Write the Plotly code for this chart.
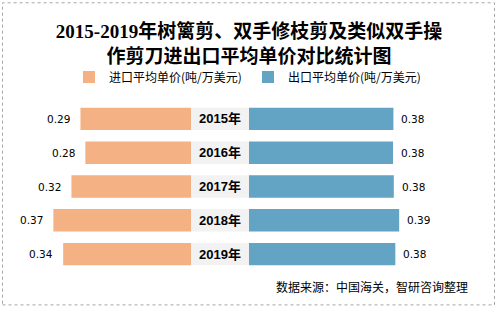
import plotly.graph_objects as go

# ---- data ----
years = ["2015年", "2016年", "2017年", "2018年", "2019年"]
import_price = [0.294, 0.281, 0.318, 0.366, 0.340]
export_price = [0.377, 0.376, 0.378, 0.392, 0.382]
center_band = [1, 1, 1, 1, 1]
import_name = "进口平均单价(吨/万美元)"
export_name = "出口平均单价(吨/万美元)"
title_text = "2015-2019年树篱剪、双手修枝剪及类似双手操<br>作剪刀进出口平均单价对比统计图"
source_text = "数据来源：中国海关，智研咨询整理"

W, H = 498, 309
ORANGE = "#F4B183"
BLUE = "#63A3C3"
CJK = "Noto Sans CJK SC"
YEARFONT = dict(family="Liberation Sans, Noto Sans CJK SC", size=13, color="black", weight="bold")

fig = go.Figure()
fig.add_trace(go.Bar(x=import_price, y=years, orientation="h", name=import_name,
                     marker=dict(color=ORANGE, line=dict(width=0)),
                     xaxis="x", yaxis="y", legend="legend", hoverinfo="skip"))
fig.add_trace(go.Bar(x=center_band, y=years, orientation="h", showlegend=False,
                     marker=dict(color="#F2F2F2", line=dict(width=0)),
                     text=years, textposition="inside", insidetextanchor="middle",
                     textfont=YEARFONT, insidetextfont=YEARFONT,
                     constraintext="none",
                     xaxis="x3", yaxis="y", hoverinfo="skip"))
fig.add_trace(go.Bar(x=export_price, y=years, orientation="h", name=export_name,
                     marker=dict(color=BLUE, line=dict(width=0)),
                     xaxis="x2", yaxis="y", legend="legend2", hoverinfo="skip"))

annotations = []
for yr, v in zip(years, import_price):
    annotations.append(dict(x=v, y=yr, xref="x", yref="y", text=f"{v:.2f}",
                            showarrow=False, xanchor="right", xshift=-8,
                            font=dict(family="DejaVu Sans", size=10.5, color="black")))
for yr, v in zip(years, export_price):
    annotations.append(dict(x=v, y=yr, xref="x2", yref="y", text=f"{v:.2f}",
                            showarrow=False, xanchor="left", xshift=6,
                            font=dict(family="DejaVu Sans", size=10.5, color="black")))

top, bottom = 102, 271.5
ph = bottom - top
def py(px):
    return (bottom - px) / ph

# source
annotations.append(dict(x=470 / W, y=py(287), xref="paper", yref="paper", text=source_text,
                        showarrow=False, xanchor="right", yanchor="middle",
                        font=dict(family=CJK, size=12, color="black")))

fig.update_layout(
    width=W, height=H,
    margin=dict(l=0, r=0, t=top, b=H - bottom, pad=0),
    paper_bgcolor="white", plot_bgcolor="white",
    bargap=0.336,
    title=dict(text=title_text, x=0.5, xanchor="center", yref="container", y=1 - 38 / H,
               yanchor="middle",
               font=dict(family="Liberation Serif, " + CJK, size=19, color="black", weight="bold")),
    xaxis=dict(domain=[0, 191 / W], range=[0.508, 0], visible=False, fixedrange=True),
    xaxis3=dict(domain=[191 / W, 249 / W], range=[0, 1], visible=False, anchor="y"),
    xaxis2=dict(domain=[249 / W, 1], range=[0, 0.650], visible=False, anchor="y"),
    yaxis=dict(autorange="reversed", visible=False),
    legend=dict(orientation="h", x=69 / W, xref="container", y=1 - 77 / H, yref="container",
                xanchor="left", yanchor="middle", bgcolor="rgba(0,0,0,0)", itemwidth=30,
                font=dict(family=CJK, size=12, color="black")),
    legend2=dict(orientation="h", x=248 / W, xref="container", y=1 - 77 / H, yref="container",
                 xanchor="left", yanchor="middle", bgcolor="rgba(0,0,0,0)", itemwidth=30,
                 font=dict(family=CJK, size=12, color="black")),
    annotations=annotations,
    shapes=[dict(type="rect", xref="paper", yref="paper",
                 x0=2.5 / W, x1=494.5 / W, y0=py(305.5), y1=py(2.5),
                 line=dict(color="#A6A6A6", width=1, dash="dot"), fillcolor="rgba(0,0,0,0)")],
    showlegend=True,
)

fig.write_html("out.html")
